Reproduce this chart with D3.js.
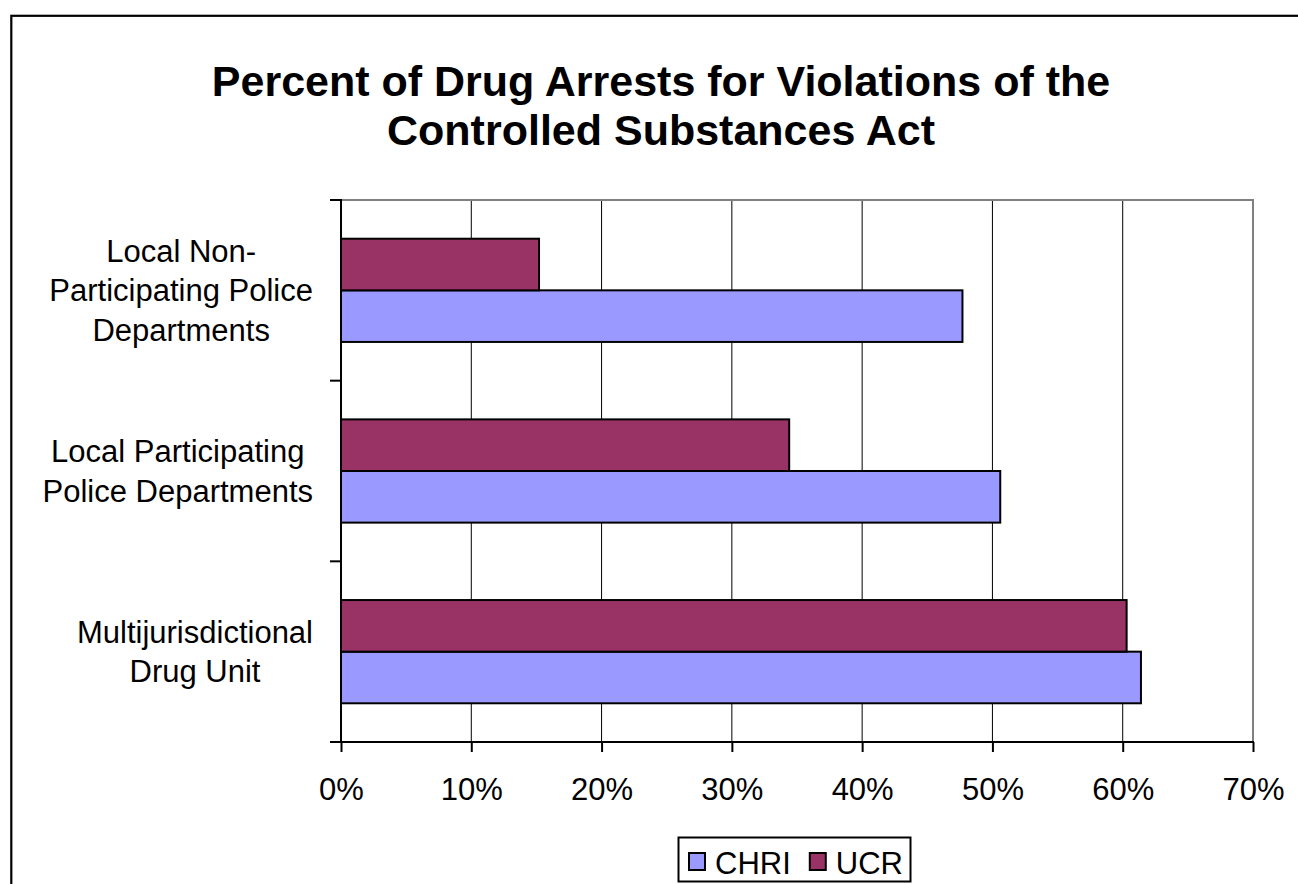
<!DOCTYPE html>
<html>
<head>
<meta charset="utf-8">
<script src="https://cdn.jsdelivr.net/npm/d3@7"></script>
<style>
  body { margin: 0; background: #fff; }
  text { font-family: "Liberation Sans", Arial, sans-serif; fill: #000; }
</style>
</head>
<body>
<script>
// data
var titleLines = ["Percent of Drug Arrests for Violations of the", "Controlled Substances Act"];
var categories = ["Local Non-Participating Police Departments",
                  "Local Participating Police Departments",
                  "Multijurisdictional Drug Unit"];
var categoryLines = [["Local Non-", "Participating Police", "Departments"],
                     ["Local Participating", "Police Departments"],
                     ["Multijurisdictional", "Drug Unit"]];
var seriesNames = ["CHRI", "UCR"];
var chriValues = [47.7, 50.6, 61.4];
var ucrValues = [15.2, 34.4, 60.3];
var xTicks = [0, 10, 20, 30, 40, 50, 60, 70];

var colors = { CHRI: "#9999ff", UCR: "#993366" };

var width = 1298,
    height = 884;

var svg = d3.select("body").append("svg")
    .attr("width", width)
    .attr("height", height);

// chart area frame (runs off the right and bottom edges)
svg.append("rect")
    .attr("x", 11.3).attr("y", 15.8)
    .attr("width", 1400).attr("height", 1000)
    .attr("fill", "none").attr("stroke", "#000").attr("stroke-width", 2.2);

// title
svg.append("g").selectAll("text")
    .data(titleLines)
  .enter().append("text")
    .attr("x", 661)
    .attr("y", function (d, i) { return 96 + i * 49; })
    .attr("text-anchor", "middle")
    .style("font-size", "43px")
    .style("font-weight", "bold")
    .text(function (d) { return d; });

var plotLeft = 341, plotRight = 1253, plotTop = 200, plotBottom = 742;

var x = d3.scaleLinear().domain([0, 70]).range([plotLeft, plotRight]);

var y0 = d3.scaleBand().domain(categories).range([plotTop, plotBottom]);

var y1 = d3.scaleBand().domain(["UCR", "CHRI"])
    .range([0, y0.bandwidth()])
    .paddingInner(0).paddingOuter(0.75);

// gridlines
svg.append("g").selectAll("line")
    .data(xTicks.slice(1, -1))
  .enter().append("line")
    .attr("x1", function (d) { return x(d); })
    .attr("x2", function (d) { return x(d); })
    .attr("y1", plotTop).attr("y2", plotBottom)
    .attr("stroke", "#000").attr("stroke-width", 1);

// plot area border
svg.append("rect")
    .attr("x", plotLeft).attr("y", plotTop)
    .attr("width", plotRight - plotLeft).attr("height", plotBottom - plotTop)
    .attr("fill", "none").attr("stroke", "#808080").attr("stroke-width", 2);

// bars
var rows = [];
categories.forEach(function (c, i) {
  rows.push({ cat: c, series: "CHRI", value: chriValues[i] });
  rows.push({ cat: c, series: "UCR", value: ucrValues[i] });
});

svg.append("g").selectAll("rect")
    .data(rows)
  .enter().append("rect")
    .attr("x", x(0))
    .attr("y", function (d) { return y0(d.cat) + y1(d.series); })
    .attr("width", function (d) { return x(d.value) - x(0); })
    .attr("height", y1.bandwidth())
    .attr("fill", function (d) { return colors[d.series]; })
    .attr("stroke", "#000").attr("stroke-width", 2);

// category axis
svg.append("line")
    .attr("x1", plotLeft).attr("x2", plotLeft)
    .attr("y1", plotTop - 1).attr("y2", plotBottom + 1)
    .attr("stroke", "#000").attr("stroke-width", 2);

var bounds = categories.map(function (c) { return y0(c); }).concat([plotBottom]);
svg.append("g").selectAll("line")
    .data(bounds)
  .enter().append("line")
    .attr("x1", plotLeft - 11).attr("x2", plotLeft)
    .attr("y1", function (d) { return d; })
    .attr("y2", function (d) { return d; })
    .attr("stroke", "#000").attr("stroke-width", 2);

// category labels: each block sits against the axis, lines centred inside it
var labelRight = 313;
svg.append("g").selectAll("text")
    .data(categories)
  .enter().append("text")
    .attr("text-anchor", "middle")
    .style("font-size", "31px")
    .each(function (c, i) {
      var lines = categoryLines[i],
          mid = y0(c) + y0.bandwidth() / 2,
          el = d3.select(this);
      var spans = el.selectAll("tspan")
          .data(lines)
        .enter().append("tspan")
          .attr("y", function (d, j) { return mid + (j - (lines.length - 1) / 2) * 39.5 + 11; })
          .text(function (d) { return d; });
      var maxW = d3.max(spans.nodes(), function (n) { return n.getComputedTextLength(); });
      spans.attr("x", labelRight - maxW / 2);
    });

// value axis
var xAxis = d3.axisBottom(x)
    .tickValues(xTicks)
    .tickSize(10)
    .tickSizeOuter(0)
    .tickFormat(function (d) { return d + "%"; });

var gx = svg.append("g")
    .attr("transform", "translate(0," + plotBottom + ")")
    .call(xAxis);

gx.select(".domain").remove();
gx.selectAll(".tick line").attr("stroke", "#000").attr("stroke-width", 2);
gx.selectAll(".tick text")
    .attr("y", 58).attr("dy", 0)
    .style("font-size", "31px")
    .style("font-family", "'Liberation Sans', Arial, sans-serif")
    .attr("fill", "#000");

svg.append("line")
    .attr("x1", plotLeft - 11).attr("x2", plotRight + 1)
    .attr("y1", plotBottom).attr("y2", plotBottom)
    .attr("stroke", "#000").attr("stroke-width", 2);

// legend
var legend = svg.append("g");
legend.append("rect")
    .attr("x", 678.5).attr("y", 837.5)
    .attr("width", 232).attr("height", 44)
    .attr("fill", "#fff").attr("stroke", "#000").attr("stroke-width", 2);

var lx = 689;
seriesNames.forEach(function (s) {
  legend.append("rect")
      .attr("x", lx).attr("y", 853)
      .attr("width", 16).attr("height", 17)
      .attr("fill", colors[s]).attr("stroke", "#000").attr("stroke-width", 2);
  var t = legend.append("text")
      .attr("x", lx + 26).attr("y", 874)
      .style("font-size", "31px")
      .text(s);
  lx += 26 + t.node().getComputedTextLength() + 19;
});
</script>
</body>
</html>
